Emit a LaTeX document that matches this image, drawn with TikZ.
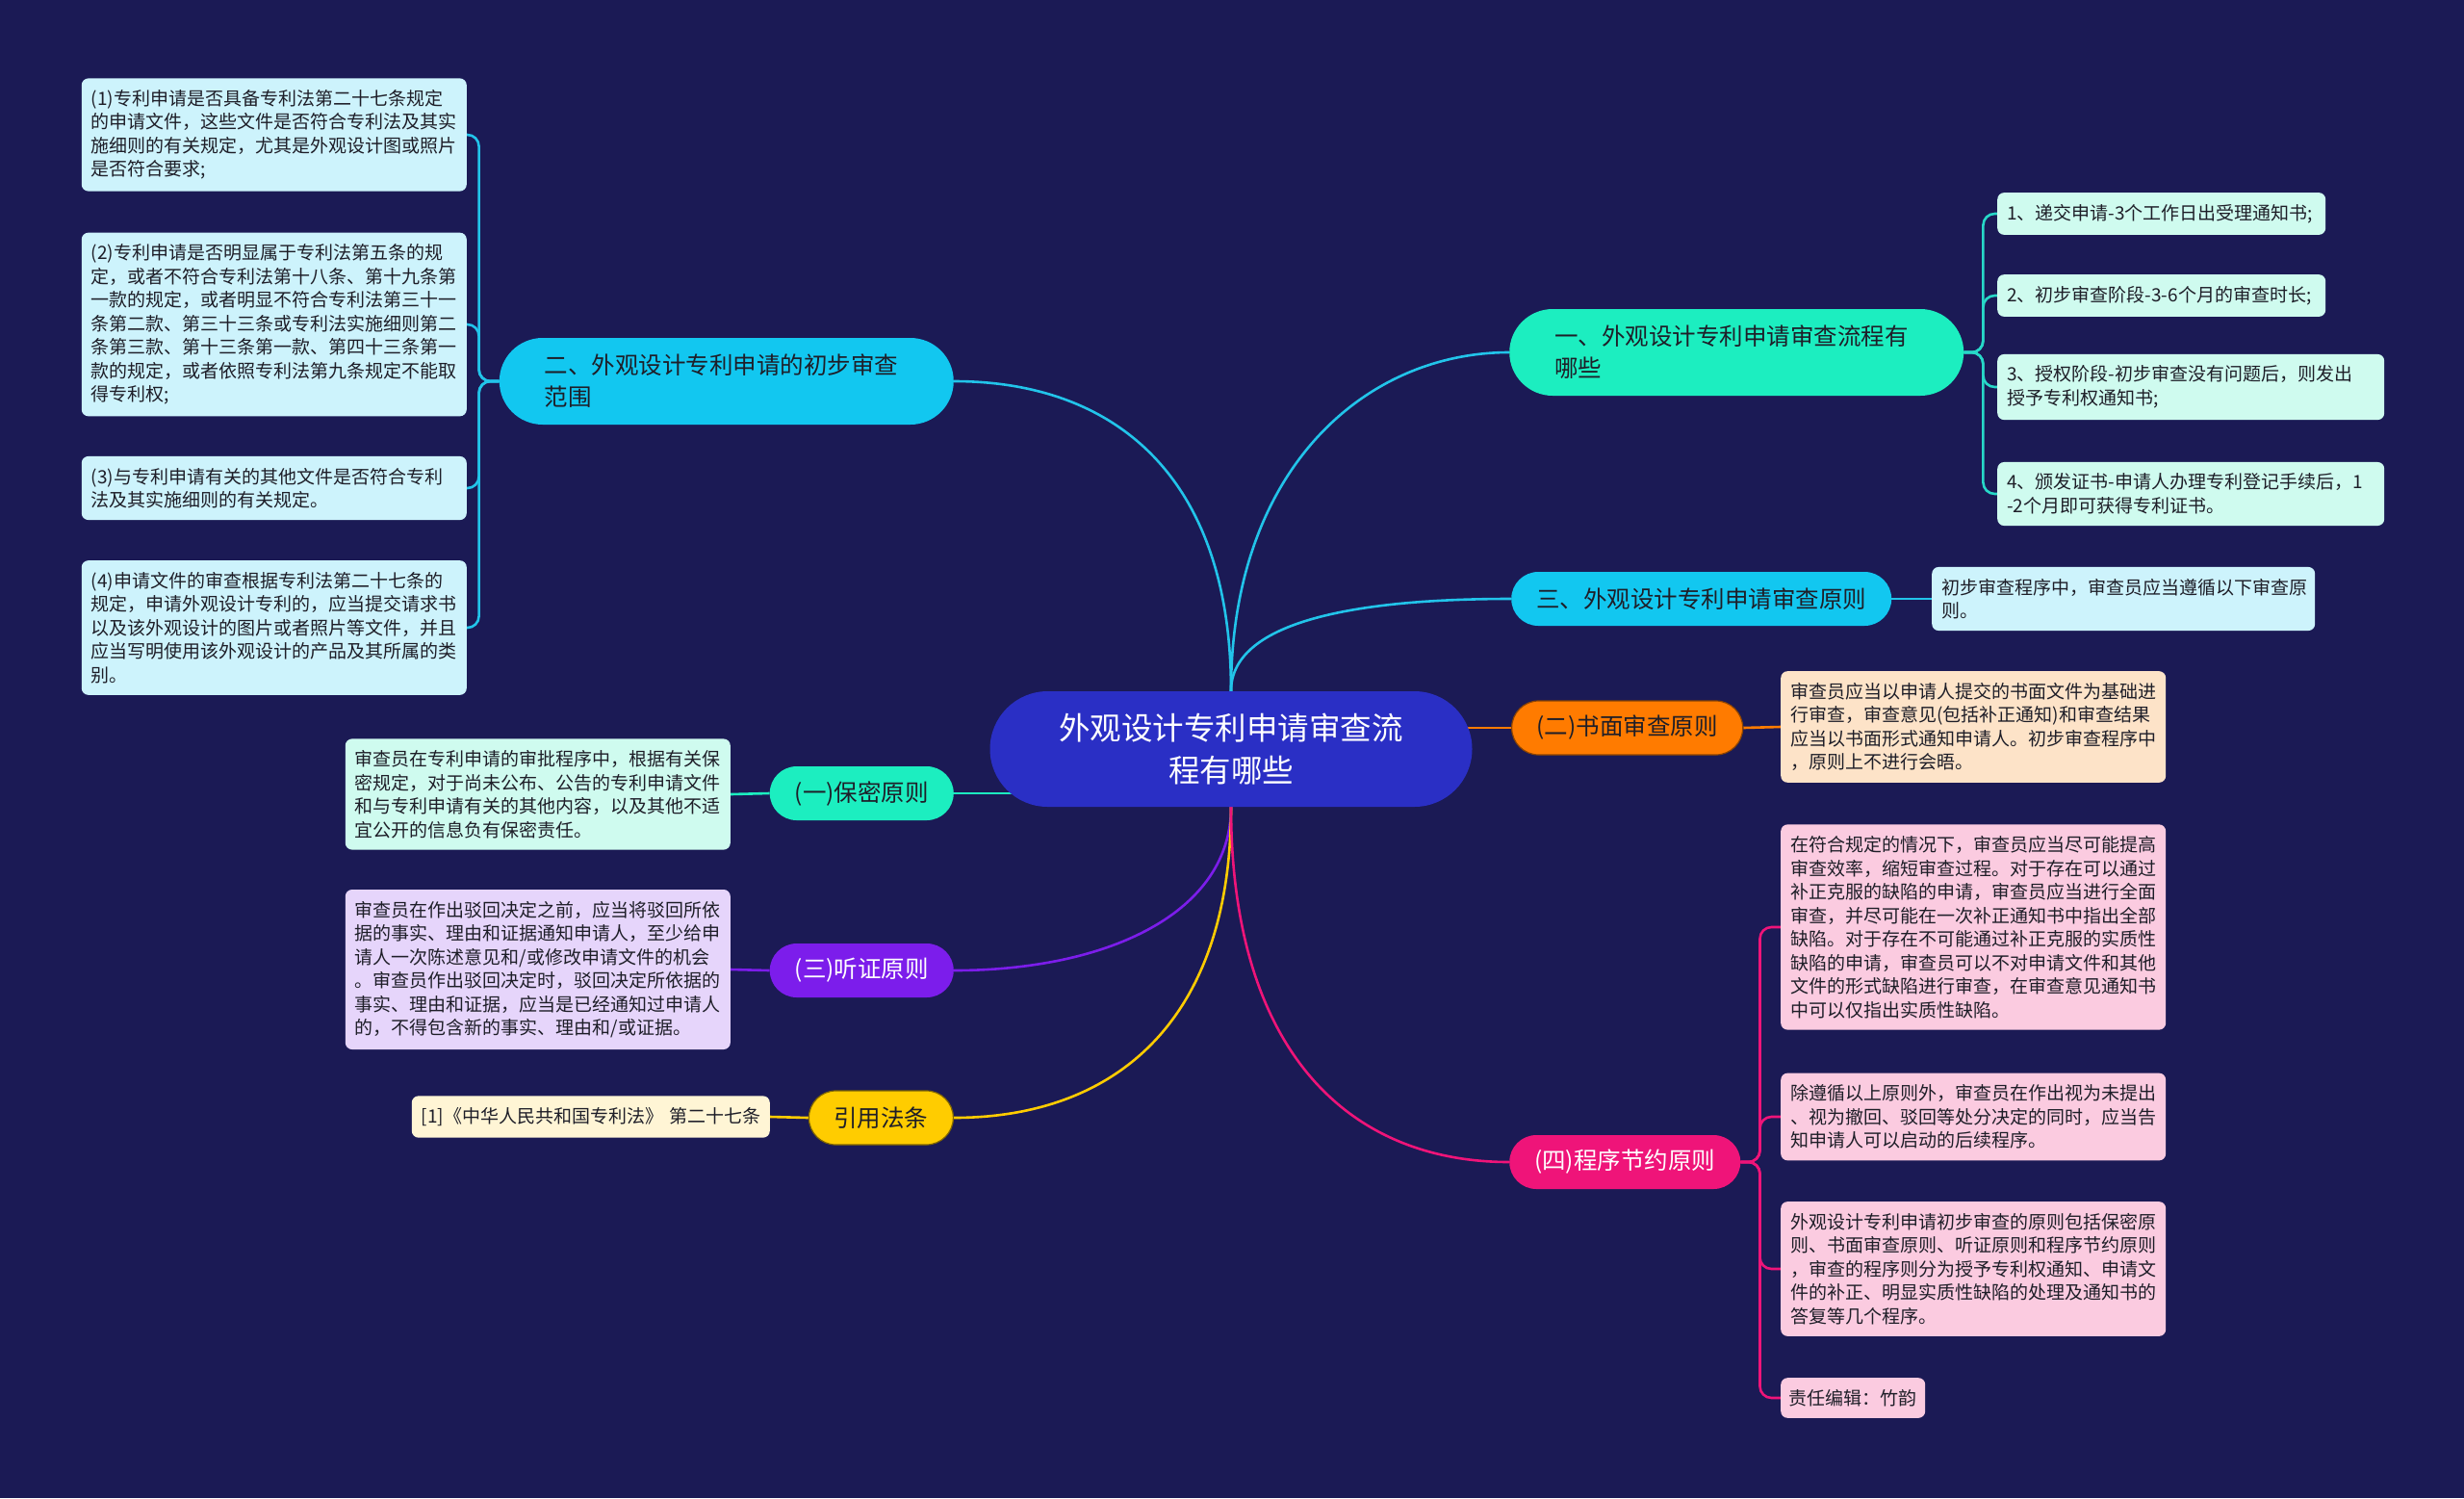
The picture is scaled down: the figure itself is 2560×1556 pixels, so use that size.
\documentclass[tikz,border=0pt]{standalone}
\usepackage{fontspec}
\setmainfont{Noto Sans CJK SC}
\usetikzlibrary{backgrounds}

\definecolor{bgnavy}{HTML}{1B1A55}
\definecolor{rootblue}{HTML}{2A2FC5}
\definecolor{aqua}{HTML}{1CEEC0}
\definecolor{aqualine}{HTML}{27D8C8}
\definecolor{skycyan}{HTML}{12C7F0}
\definecolor{skyline}{HTML}{22C4EA}
\definecolor{tangerine}{HTML}{FF7B00}
\definecolor{grape}{HTML}{7C1DEB}
\definecolor{sun}{HTML}{FFCC00}
\definecolor{rosepink}{HTML}{EF1479}
\definecolor{cyanleaf}{HTML}{CDF3FC}
\definecolor{mintleaf}{HTML}{CFFBEF}
\definecolor{peachleaf}{HTML}{FDE3C8}
\definecolor{lavleaf}{HTML}{E6D5FB}
\definecolor{pinkleaf}{HTML}{FBCBE0}
\definecolor{creamleaf}{HTML}{FFF5D5}
\definecolor{inkdark}{HTML}{1E1E28}

\newcommand{\rootfont}{\fontsize{32.5}{44}\selectfont}
\newcommand{\branchfont}{\fontsize{24.5}{33}\selectfont}
\newcommand{\leaffont}{\fontsize{19}{24.5}\selectfont}

\begin{document}
\begin{tikzpicture}[x=1pt, y=-1pt,
 rootbox/.style={fill=rootblue, text=white, rounded corners=60pt, minimum width=501pt, minimum height=120pt, align=center, font=\rootfont},
 branchbox/.style={rounded corners=28pt, minimum height=56pt, inner xsep=26pt, font=\branchfont, text=inkdark},
 widebox/.style={text width=378pt, align=left, inner xsep=47pt, minimum height=90pt, rounded corners=45pt},
 leafbox/.style={rounded corners=7pt, text width=380pt, align=left, inner xsep=10pt, inner ysep=12pt, font=\leaffont, text=inkdark},
 conn/.style={line width=2.6pt, rounded corners=12pt}]
\begin{scope}[on background layer]
\fill[bgnavy] (0,0) rectangle (2560,1556);
\end{scope}
\useasboundingbox (0,0) rectangle (2560,1556);

\node[rootbox] (root) at (1279,778) {外观设计专利申请审查流\\程有哪些};

% right branches
\node[branchbox, widebox, fill=aqua, anchor=west] (s1) at (1568,366) {一、外观设计专利申请审查流程有\\哪些};
\node[branchbox, fill=skycyan, anchor=west] (s3) at (1570,622) {三、外观设计专利申请审查原则};
\node[branchbox, fill=tangerine, draw=tangerine!55!black, line width=1.2pt, anchor=west] (p2) at (1570,756) {(二)书面审查原则};
\node[branchbox, fill=rosepink, text=white, anchor=west] (p4) at (1568,1207) {(四)程序节约原则};

% left branches
\node[branchbox, widebox, fill=skycyan, anchor=east] (s2) at (991,396) {二、外观设计专利申请的初步审查\\范围};
\node[branchbox, fill=aqua, anchor=east] (p1) at (991,824) {(一)保密原则};
\node[branchbox, fill=grape, text=white, anchor=east] (p3) at (991,1008) {(三)听证原则};
\node[branchbox, fill=sun, draw=sun!50!black, line width=1.2pt, anchor=east] (cite) at (991,1161) {引用法条};

% leaves of s1
\node[leafbox, fill=mintleaf, text width=321pt, anchor=west] (s1a) at (2075,222) {1、递交申请-3个工作日出受理通知书;};
\node[leafbox, fill=mintleaf, text width=321pt, anchor=west] (s1b) at (2075,307) {2、初步审查阶段-3-6个月的审查时长;};
\node[leafbox, fill=mintleaf, text width=382pt, anchor=west] (s1c) at (2075,402) {3、授权阶段-初步审查没有问题后，则发出\\授予专利权通知书;};
\node[leafbox, fill=mintleaf, text width=382pt, anchor=west] (s1d) at (2075,513) {4、颁发证书-申请人办理专利登记手续后，1\\-2个月即可获得专利证书。};

% leaves of s3, p2, p4
\node[leafbox, fill=cyanleaf, text width=378pt, anchor=west] (s3a) at (2007,622) {初步审查程序中，审查员应当遵循以下审查原\\则。};
\node[leafbox, fill=peachleaf, anchor=west] (p2a) at (1850,755) {审查员应当以申请人提交的书面文件为基础进\\行审查，审查意见(包括补正通知)和审查结果\\应当以书面形式通知申请人。初步审查程序中\\，原则上不进行会晤。};
\node[leafbox, fill=pinkleaf, anchor=west] (p4a) at (1850,963) {在符合规定的情况下，审查员应当尽可能提高\\审查效率，缩短审查过程。对于存在可以通过\\补正克服的缺陷的申请，审查员应当进行全面\\审查，并尽可能在一次补正通知书中指出全部\\缺陷。对于存在不可能通过补正克服的实质性\\缺陷的申请，审查员可以不对申请文件和其他\\文件的形式缺陷进行审查，在审查意见通知书\\中可以仅指出实质性缺陷。};
\node[leafbox, fill=pinkleaf, anchor=west] (p4b) at (1850,1160) {除遵循以上原则外，审查员在作出视为未提出\\、视为撤回、驳回等处分决定的同时，应当告\\知申请人可以启动的后续程序。};
\node[leafbox, fill=pinkleaf, anchor=west] (p4c) at (1850,1318) {外观设计专利申请初步审查的原则包括保密原\\则、书面审查原则、听证原则和程序节约原则\\，审查的程序则分为授予专利权通知、申请文\\件的补正、明显实质性缺陷的处理及通知书的\\答复等几个程序。};
\node[leafbox, fill=pinkleaf, text width=134pt, inner xsep=8pt, anchor=west] (p4d) at (1850,1452) {责任编辑：竹韵};

% leaves of s2
\node[leafbox, fill=cyanleaf, anchor=east] (s2a) at (485,140) {(1)专利申请是否具备专利法第二十七条规定\\的申请文件，这些文件是否符合专利法及其实\\施细则的有关规定，尤其是外观设计图或照片\\是否符合要求;};
\node[leafbox, fill=cyanleaf, anchor=east] (s2b) at (485,337) {(2)专利申请是否明显属于专利法第五条的规\\定，或者不符合专利法第十八条、第十九条第\\一款的规定，或者明显不符合专利法第三十一\\条第二款、第三十三条或专利法实施细则第二\\条第三款、第十三条第一款、第四十三条第一\\款的规定，或者依照专利法第九条规定不能取\\得专利权;};
\node[leafbox, fill=cyanleaf, anchor=east] (s2c) at (485,507) {(3)与专利申请有关的其他文件是否符合专利\\法及其实施细则的有关规定。};
\node[leafbox, fill=cyanleaf, anchor=east] (s2d) at (485,652) {(4)申请文件的审查根据专利法第二十七条的\\规定，申请外观设计专利的，应当提交请求书\\以及该外观设计的图片或者照片等文件，并且\\应当写明使用该外观设计的产品及其所属的类\\别。};

% leaves of p1, p3, cite
\node[leafbox, fill=mintleaf, anchor=east] (p1a) at (759,825) {审查员在专利申请的审批程序中，根据有关保\\密规定，对于尚未公布、公告的专利申请文件\\和与专利申请有关的其他内容，以及其他不适\\宜公开的信息负有保密责任。};
\node[leafbox, fill=lavleaf, anchor=east] (p3a) at (759,1007) {审查员在作出驳回决定之前，应当将驳回所依\\据的事实、理由和证据通知申请人，至少给申\\请人一次陈述意见和/或修改申请文件的机会\\。审查员作出驳回决定时，驳回决定所依据的\\事实、理由和证据，应当是已经通知过申请人\\的，不得包含新的事实、理由和/或证据。};
\node[leafbox, fill=creamleaf, text width=352pt, anchor=east] (citea) at (800,1160) {[1]《中华人民共和国专利法》~第二十七条};

% connectors
\begin{scope}[on background layer]
\draw[conn, draw=skyline] (root.north) .. controls +(0,-230) and +(-150,0) .. (s1.west);
\draw[conn, draw=skyline] (root.north) .. controls +(0,-70) and +(-170,0) .. (s3.west);
\draw[conn, draw=skyline] (root.north) .. controls +(0,-220) and +(170,0) .. (s2.east);
\draw[conn, draw=tangerine] (root.center |- p2.west) -- (p2.west);
\draw[conn, draw=aqua] (root.center |- p1.east) -- (p1.east);
\draw[conn, draw=grape] (root.south) .. controls +(0,110) and +(160,0) .. (p3.east);
\draw[conn, draw=sun] (root.south) .. controls +(0,220) and +(170,0) .. (cite.east);
\draw[conn, draw=rosepink] (root.south) .. controls +(0,250) and +(-170,0) .. (p4.west);
\foreach \k in {s1a,s1b,s1c,s1d}
  \draw[conn, draw=aqualine] (s1.east) -- ++(20,0) |- (\k.west);
\foreach \k in {s2a,s2b,s2c,s2d}
  \draw[conn, draw=skyline] (s2.west) -- ++(-21,0) |- (\k.east);
\foreach \k in {p4a,p4b,p4c,p4d}
  \draw[conn, draw=rosepink] (p4.east) -- ++(20,0) |- (\k.west);
\draw[conn, draw=skyline] (s3.east) -- (s3a.west);
\draw[conn, draw=tangerine] (p2.east) -- (p2a.west);
\draw[conn, draw=aqua] (p1a.east) -- (p1.west);
\draw[conn, draw=grape] (p3a.east) -- (p3.west);
\draw[conn, draw=sun] (citea.east) -- (cite.west);
\end{scope}
\end{tikzpicture}
\end{document}
